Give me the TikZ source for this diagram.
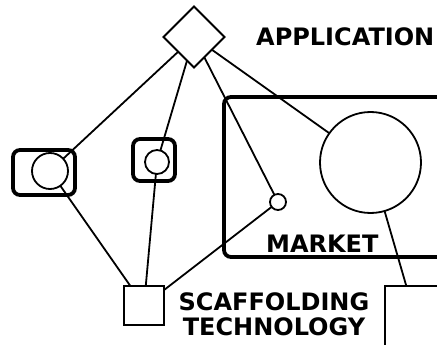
\documentclass[tikz,border=0pt]{standalone}
\usepackage{fontspec}
\setmainfont{DejaVu Sans}
\usetikzlibrary{shapes.geometric}
\tikzset{
  thin line/.style={line width=1.8pt},
  thick line/.style={line width=3.8pt},
  bare/.style={draw, thin line, inner sep=0pt, outer sep=0pt},
  ring/.style={bare, circle, minimum size=#1},
  holder/.style={draw, thick line, rounded corners=7pt, inner sep=0pt},
  label text/.style={inner sep=0pt, font=\bfseries\fontsize{24}{25}\selectfont},
  link/.style={thin line}
}
\begin{document}
\begin{tikzpicture}[x=1pt, y=-1pt]
  \useasboundingbox (0,0) rectangle (437,345);
  \clip (0,0) rectangle (437,345);

  % containers
  \node[holder, minimum width=238pt, minimum height=160pt] (market) at (343,177) {};
  \node[holder, minimum width=62pt, minimum height=45pt] (box1) at (44,172.5) {};
  \node[holder, minimum width=42pt, minimum height=42pt] (box2) at (154,160) {};

  % elements
  \node[bare, diamond, minimum width=61pt, minimum height=61pt] (app) at (194,37) {};
  \node[ring=36pt] (c1) at (50,171) {};
  \node[ring=24pt] (c2) at (157,162) {};
  \node[ring=16pt] (c3) at (278,202) {};
  \node[ring=101pt] (big) at (370.5,162.5) {};
  \node[bare, minimum width=40pt, minimum height=39pt] (scaf) at (144,305.5) {};
  \node[bare, minimum width=60pt, minimum height=60pt] (tech) at (415,316) {};

  % labels
  \node[label text, anchor=base west] (appl) at (256,46) {APPLICATION};
  \node[label text, anchor=base west] (mkt) at (266,252) {MARKET};
  \node[label text, anchor=base] (scaf1) at (274,310) {SCAFFOLDING};
  \node[label text, anchor=base] (scaf2) at (274,335) {TECHNOLOGY};

  % connectors
  \draw[link] (app) -- (c1);
  \draw[link] (app) -- (c2);
  \draw[link] (app) -- (c3);
  \draw[link] (app) -- (big);
  \draw[link] (c1) -- (scaf);
  \draw[link] (c2) -- (scaf);
  \draw[link] (c3) -- (scaf);
  \draw[link] (big) -- (tech);
\end{tikzpicture}
\end{document}
